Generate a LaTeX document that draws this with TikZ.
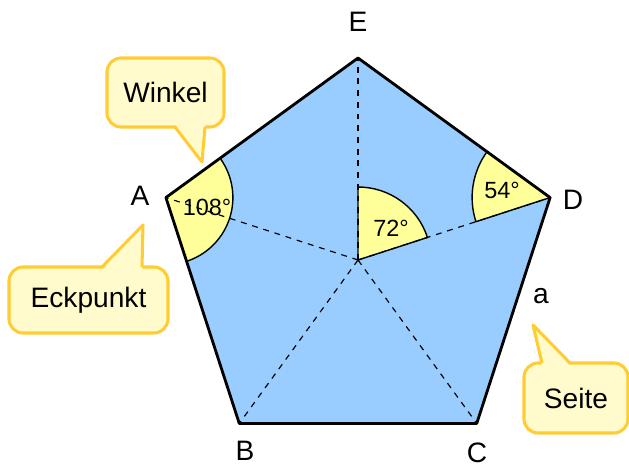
\documentclass[tikz,border=0pt]{standalone}
\usepackage{fontspec}
\setmainfont{Liberation Sans}
\definecolor{faceblue}{RGB}{153,204,255}
\definecolor{angleyellow}{RGB}{255,255,153}
\definecolor{notefill}{RGB}{255,251,204}
\definecolor{noteline}{RGB}{255,204,51}
\begin{document}
\begin{tikzpicture}[
  x=0.03cm, y=0.03cm,
  font=\fontsize{24}{28}\selectfont,
  edge/.style={draw=black, line width=2.4pt, line join=round},
  ray/.style={line width=1pt, dash pattern=on 5pt off 5pt},
  sector/.style={fill=angleyellow, draw=black, line width=1.2pt},
  anglelabel/.style={font=\fontsize{20}{23}\selectfont, inner sep=0pt},
  note/.style={fill=notefill, draw=noteline, line width=2.6pt, rounded corners=12pt},
  tail/.style={draw=noteline, line width=2.6pt, line join=round}
]
\useasboundingbox (0,0) rectangle (629,468);
\coordinate (M) at (358,208);
\path (M) +(90:202) coordinate (E) +(18:202) coordinate (D) +(-54:202) coordinate (C)
  +(-126:202) coordinate (B) +(162:202) coordinate (A);
\fill[faceblue] (A) -- (E) -- (D) -- (C) -- (B) -- cycle;
\draw[sector] (M) -- ++(90:73) arc[start angle=90, end angle=18, radius=73] -- cycle;
\draw[sector] (D) -- ++(144:78) arc[start angle=144, end angle=198, radius=78] -- cycle;
\draw[sector] (A) -- ++(36:67) arc[start angle=36, end angle=-72, radius=67] -- cycle;
\foreach \v in {A,B,C,D,E}
  \draw[ray] (M) -- (\v);
\draw[edge] (A) -- (E) -- (D) -- (C) -- (B) -- cycle;
\node (labE) at (358,446) {E};
\node (labA) at (140,272) {A};
\node (labD) at (573,268) {D};
\node (labB) at (245,17) {B};
\node (labC) at (477,15) {C};
\node (laba) at (541,172) {a};
\node[anglelabel] (ang108) at (207,261) {108°};
\node[anglelabel] (ang72) at (391,240) {72°};
\node[anglelabel] (ang54) at (502,278) {54°};
\draw[note] (107,341) rectangle (224,410);
\fill[notefill] (175,344) -- (202,306) -- (205,344) -- cycle;
\draw[tail] (175,341) -- (202,306) -- (205,341);
\node (winkel) at (165.5,375.5) {Winkel};
\draw[note] (9,135) rectangle (168,201);
\fill[notefill] (102,198) -- (143,243) -- (142,198) -- cycle;
\draw[tail] (102,201) -- (143,243) -- (142,201);
\node (eckpunkt) at (88.5,168) {Eckpunkt};
\draw[note] (524,35) rectangle (628,105);
\fill[notefill] (542,102) -- (533,143) -- (570,102) -- cycle;
\draw[tail] (542,105) -- (533,143) -- (570,105);
\node (seite) at (576,70) {Seite};
\end{tikzpicture}
\end{document}
